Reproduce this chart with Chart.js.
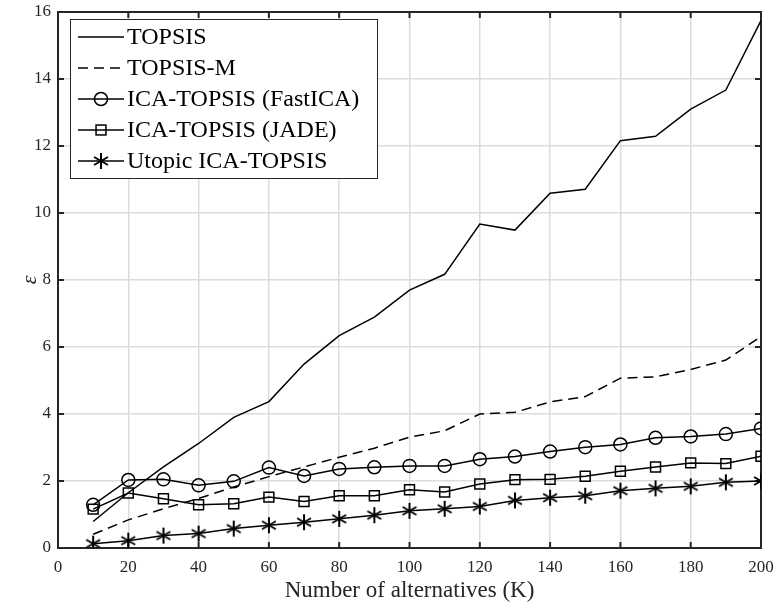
<!DOCTYPE html>
<html>
<head>
<meta charset="utf-8">
<script src="https://cdn.jsdelivr.net/npm/chart.js@4.4.0/dist/chart.umd.min.js"></script>
<style>
  body { margin: 0; background: #fff; }
  #wrap { width: 775px; height: 610px; }
</style>
</head>
<body>
<div id="wrap"><canvas id="epsChart"></canvas></div>
<script>
// data
const alternatives = [10, 20, 30, 40, 50, 60, 70, 80, 90, 100, 110, 120, 130, 140, 150, 160, 170, 180, 190, 200];
const topsis   = [0.79, 1.65, 2.42, 3.12, 3.90, 4.37, 5.49, 6.34, 6.89, 7.70, 8.17, 9.67, 9.49, 10.59, 10.71, 12.16, 12.29, 13.10, 13.67, 15.74];
const topsisM  = [0.41, 0.84, 1.17, 1.48, 1.82, 2.13, 2.42, 2.71, 2.98, 3.31, 3.50, 4.00, 4.05, 4.36, 4.52, 5.07, 5.11, 5.33, 5.61, 6.31];
const fastIca  = [1.29, 2.03, 2.05, 1.87, 1.99, 2.40, 2.15, 2.36, 2.41, 2.45, 2.45, 2.65, 2.73, 2.88, 3.01, 3.09, 3.29, 3.33, 3.40, 3.57];
const jade     = [1.16, 1.64, 1.47, 1.29, 1.32, 1.52, 1.39, 1.56, 1.56, 1.74, 1.67, 1.91, 2.04, 2.05, 2.14, 2.29, 2.42, 2.54, 2.52, 2.74];
const utopic   = [0.13, 0.22, 0.37, 0.43, 0.58, 0.68, 0.77, 0.87, 0.98, 1.11, 1.17, 1.24, 1.42, 1.50, 1.56, 1.71, 1.78, 1.84, 1.96, 2.00];
const seriesNames = ['TOPSIS', 'TOPSIS-M', 'ICA-TOPSIS (FastICA)', 'ICA-TOPSIS (JADE)', 'Utopic ICA-TOPSIS'];
const xTicks = [0, 20, 40, 60, 80, 100, 120, 140, 160, 180, 200];
const yTicks = [0, 2, 4, 6, 8, 10, 12, 14, 16];

const FONT = '"Liberation Serif", "Times New Roman", serif';
const AXIS_COL = '#262626';

// six-armed asterisk marker (matlab '*')
function makeStar(size, lw) {
    const c = document.createElement('canvas');
    c.width = size; c.height = size;
    const g = c.getContext('2d');
    const r = size / 2 - 1, m = size / 2;
    g.strokeStyle = '#000';
    g.lineWidth = lw;
    g.beginPath();
    [90, 30, -30].forEach(a => {
        const rad = a * Math.PI / 180;
        g.moveTo(m - r * Math.cos(rad), m - r * Math.sin(rad));
        g.lineTo(m + r * Math.cos(rad), m + r * Math.sin(rad));
    });
    g.stroke();
    return c;
}
const starImg = makeStar(18, 2);

const pts = ys => alternatives.map((x, i) => ({ x: x, y: ys[i] }));

const datasets = [
    { label: seriesNames[0], data: pts(topsis), pointRadius: 0 },
    { label: seriesNames[1], data: pts(topsisM), pointRadius: 0, borderDash: [10, 6] },
    { label: seriesNames[2], data: pts(fastIca), pointStyle: 'circle', pointRadius: 6.5 },
    { label: seriesNames[3], data: pts(jade), pointStyle: 'rect', pointRadius: 7 },
    { label: seriesNames[4], data: pts(utopic), pointStyle: starImg, pointRadius: 9 }
].map(d => Object.assign({
    borderColor: '#000',
    borderWidth: 1.5,
    pointBorderColor: '#000',
    pointBackgroundColor: 'rgba(0,0,0,0)',
    pointBorderWidth: 1.5,
    fill: false,
    tension: 0
}, d));

// box, inward ticks and matlab-like legend
const matlabFrame = {
    id: 'matlabFrame',
    beforeDatasetsDraw(chart) {
        const { ctx, chartArea: a, scales } = chart;
        ctx.save();
        ctx.strokeStyle = AXIS_COL;
        ctx.lineWidth = 2;
        ctx.beginPath();
        xTicks.forEach(v => {
            const px = scales.x.getPixelForValue(v);
            ctx.moveTo(px, a.bottom); ctx.lineTo(px, a.bottom - 6);
            ctx.moveTo(px, a.top); ctx.lineTo(px, a.top + 6);
        });
        yTicks.forEach(v => {
            const py = scales.y.getPixelForValue(v);
            ctx.moveTo(a.left, py); ctx.lineTo(a.left + 6, py);
            ctx.moveTo(a.right, py); ctx.lineTo(a.right - 6, py);
        });
        ctx.stroke();
        ctx.strokeRect(a.left, a.top, a.right - a.left, a.bottom - a.top);
        ctx.restore();
    },
    afterDraw(chart) {
        const { ctx } = chart;
        const bx = 70, by = 19, bw = 307, bh = 159, rowH = 31;
        ctx.save();
        ctx.fillStyle = '#fff';
        ctx.fillRect(bx, by, bw, bh);
        ctx.strokeStyle = AXIS_COL;
        ctx.lineWidth = 1;
        ctx.strokeRect(bx + 0.5, by + 0.5, bw, bh);
        ctx.font = '24px ' + FONT;
        ctx.textBaseline = 'middle';
        chart.data.datasets.forEach((ds, i) => {
            const y = by + 18 + i * rowH;
            ctx.strokeStyle = '#000';
            ctx.lineWidth = 1.5;
            ctx.setLineDash(ds.borderDash || []);
            ctx.beginPath();
            ctx.moveTo(78, y); ctx.lineTo(124, y);
            ctx.stroke();
            ctx.setLineDash([]);
            const cx = 101;
            if (ds.pointStyle === 'circle') {
                ctx.beginPath();
                ctx.arc(cx, y, ds.pointRadius, 0, Math.PI * 2);
                ctx.stroke();
            } else if (ds.pointStyle === 'rect') {
                const s = ds.pointRadius * Math.SQRT1_2;
                ctx.strokeRect(cx - s, y - s, 2 * s, 2 * s);
            } else if (ds.pointStyle === starImg) {
                ctx.drawImage(starImg, cx - 9, y - 9);
            }
            ctx.fillStyle = '#000';
            ctx.fillText(ds.label, 127, y + 1);
        });
        ctx.restore();
    }
};

new Chart(document.getElementById('epsChart'), {
    type: 'line',
    data: { datasets: datasets },
    options: {
        responsive: true,
        maintainAspectRatio: false,
        animation: false,
        layout: { padding: { top: 12, right: 14, left: 0, bottom: 0 } },
        plugins: {
            legend: { display: false },
            tooltip: { enabled: false }
        },
        scales: {
            x: {
                type: 'linear',
                min: 0, max: 200,
                afterBuildTicks: s => { s.ticks = xTicks.map(v => ({ value: v })); },
                afterFit: s => { s.height = 62; s.paddingLeft = 0; s.paddingRight = 0; },
                grid: { color: '#dcdcdc', lineWidth: 1.5, drawTicks: false },
                border: { display: false },
                ticks: { color: '#262626', font: { family: FONT, size: 17 }, padding: 9, maxRotation: 0 },
                title: {
                    display: true,
                    text: 'Number of alternatives (K)',
                    color: '#262626',
                    font: { family: FONT, size: 23 },
                    padding: { top: 0, bottom: 5 }
                }
            },
            y: {
                min: 0, max: 16,
                afterBuildTicks: s => { s.ticks = yTicks.map(v => ({ value: v })); },
                afterFit: s => { s.width = 58; s.paddingTop = 0; s.paddingBottom = 0; },
                grid: { color: '#dcdcdc', lineWidth: 1.5, drawTicks: false },
                border: { display: false },
                ticks: { color: '#262626', font: { family: FONT, size: 17 }, padding: 7 },
                title: {
                    display: true,
                    text: 'ε',
                    color: '#262626',
                    font: { family: FONT, size: 22, style: 'italic' },
                    padding: { top: 17, bottom: 0 }
                }
            }
        }
    },
    plugins: [matlabFrame]
});
</script>
</body>
</html>
